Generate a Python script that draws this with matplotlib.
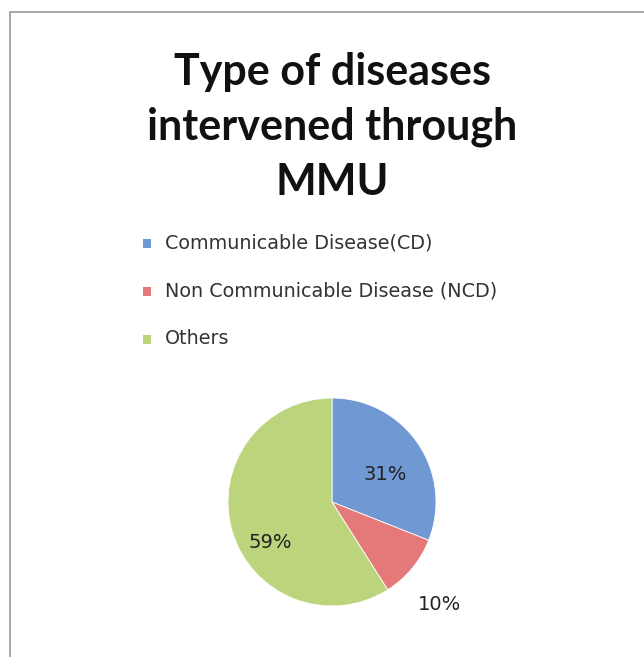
import matplotlib.pyplot as plt
from matplotlib.patches import Rectangle

# data
categories = ['Communicable Disease(CD)', 'Non Communicable Disease (NCD)', 'Others']
shares = [31, 10, 59]
labels = ['31%', '10%', '59%']
colors = ['#7098D2', '#E57878', '#BCD47C']

W, H = 644, 657
fig = plt.figure(figsize=(W / 100, H / 100), dpi=100)
fig.patch.set_facecolor('white')

# chart frame
fig.patches.append(Rectangle((10 / W, -0.01), 1.0, 1 - 12 / H + 0.01,
                             transform=fig.transFigure, fill=False,
                             edgecolor='#9a9a9a', linewidth=1.2))

# title
for i, line in enumerate(['Type of diseases', 'intervened through', 'MMU']):
    fig.text(332 / W, 1 - (72 + 55 * i) / H, line, ha='center', va='center',
             fontsize=31, fontweight='bold', family='Lato', color='#111111')

# legend
for i, (cat, col) in enumerate(zip(categories, colors)):
    y = 1 - (243 + 48 * i) / H
    fig.patches.append(Rectangle((143 / W, y - 5 / H), 8 / W, 9 / H,
                                 transform=fig.transFigure, facecolor=col,
                                 edgecolor='none'))
    fig.text(165 / W, y, cat, ha='left', va='center', fontsize=13.8,
             family='DejaVu Sans', color='#333333')

# pie
cx, cy, r = 332, 502, 104
ax = fig.add_axes([(cx - r) / W, 1 - (cy + r) / H, 2 * r / W, 2 * r / H])
wedges, _ = ax.pie(shares, colors=colors, startangle=90, counterclock=False,
                   wedgeprops=dict(edgecolor='white', linewidth=0.6))
ax.set_aspect('equal')
ax.set_xlim(-1, 1)
ax.set_ylim(-1, 1)

label_pos = [(385, 474), (440, 605), (270, 543)]
for lab, (lx, ly) in zip(labels, label_pos):
    fig.text(lx / W, 1 - ly / H, lab, ha='center', va='center', fontsize=14,
             family='DejaVu Sans', color='#222222')

fig.savefig('out.png', dpi=100)
